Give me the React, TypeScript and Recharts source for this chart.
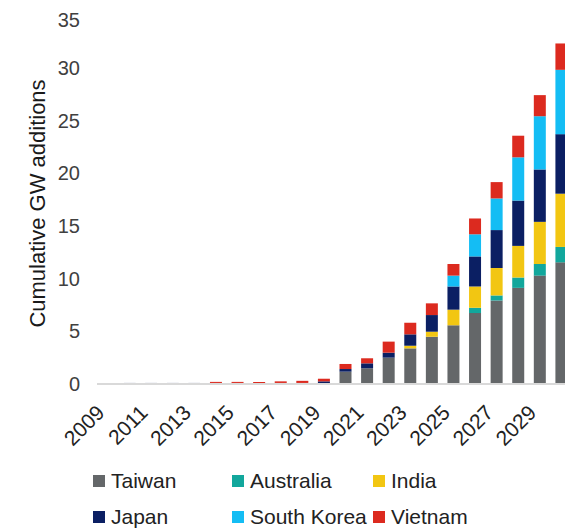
import { Bar, BarChart, Label, Legend, XAxis, YAxis } from 'recharts';

const years = [
  '2009', '2010', '2011', '2012', '2013', '2014', '2015', '2016', '2017', '2018', '2019',
  '2020', '2021', '2022', '2023', '2024', '2025', '2026', '2027', '2028', '2029', '2030',
];

// cumulative GW additions per market
const taiwan = [0, 0, 0, 0, 0, 0, 0, 0, 0, 0, 0.05, 1.17, 1.49, 2.5, 3.38, 4.48, 5.57, 6.73, 7.92, 9.12, 10.28, 11.54];
const australia = [0, 0, 0, 0, 0, 0, 0, 0, 0, 0, 0, 0, 0, 0, 0, 0, 0, 0.5, 0.48, 0.98, 1.1, 1.46];
const india = [0, 0, 0, 0, 0, 0, 0, 0, 0, 0, 0, 0, 0, 0, 0.25, 0.48, 1.48, 2.02, 2.6, 3.0, 4.0, 5.05];
const japan = [0, 0.1, 0.1, 0.1, 0.1, 0.1, 0.1, 0.1, 0.1, 0.1, 0.2, 0.25, 0.47, 0.47, 1.08, 1.58, 2.2, 2.85, 3.6, 4.3, 4.97, 5.65];
const southKorea = [0, 0, 0, 0, 0, 0, 0, 0, 0, 0, 0, 0, 0, 0, 0, 0, 1.03, 2.1, 3.0, 4.1, 5.05, 6.1];
const vietnam = [0, 0, 0, 0, 0, 0.1, 0.1, 0.1, 0.15, 0.2, 0.25, 0.48, 0.48, 1.05, 1.1, 1.11, 1.1, 1.5, 1.55, 2.05, 2.0, 2.5];

const yTicks = [0, 5, 10, 15, 20, 25, 30, 35];

const series = [
  { key: 'Taiwan', values: taiwan, color: '#646769' },
  { key: 'Australia', values: australia, color: '#12a79c' },
  { key: 'India', values: india, color: '#f2c612' },
  { key: 'Japan', values: japan, color: '#0b1f63' },
  { key: 'South Korea', values: southKorea, color: '#14bdf4' },
  { key: 'Vietnam', values: vietnam, color: '#dc2a1f' },
];

const data = years.map((year, i) => {
  const row: Record<string, string | number> = { year };
  series.forEach((s) => {
    row[s.key] = s.values[i];
  });
  return row;
});

const FONT = '"Liberation Sans", Arial, sans-serif';
const colLeft = [0, 139, 280];

function YearTick({ x, y, payload }: any) {
  return (
    <text
      x={0}
      y={0}
      textAnchor="end"
      transform={`translate(${x - 2},${y + 22}) rotate(-45)`}
      fontSize={21}
      fontFamily={FONT}
      fill="#222"
    >
      {payload.value}
    </text>
  );
}

function LegendBox() {
  return (
    <div style={{ position: 'relative', height: 82, fontFamily: FONT, fontSize: 21, color: '#222' }}>
      {series.map((s, i) => (
        <div
          key={s.key}
          style={{
            position: 'absolute',
            left: 85 + colLeft[i % 3],
            top: i < 3 ? 22 : 58,
            display: 'flex',
            alignItems: 'center',
            whiteSpace: 'nowrap',
            lineHeight: '24px',
          }}
        >
          <span style={{ width: 12, height: 12, background: s.color, marginRight: 6, display: 'inline-block' }} />
          {s.key}
        </div>
      ))}
    </div>
  );
}

export default function App() {
  return (
    <BarChart
      width={565}
      height={521}
      data={data}
      margin={{ top: 7, right: 1, bottom: 0, left: 0 }}
      barSize={12}
    >
      <XAxis
        dataKey="year"
        interval={1}
        tick={<YearTick />}
        tickLine={false}
        axisLine={{ stroke: '#d9d9d9', strokeWidth: 2 }}
        height={63}
      />
      <YAxis
        domain={[0, 35]}
        ticks={yTicks}
        width={89}
        axisLine={false}
        tickLine={false}
        tickSize={0}
        tickMargin={17}
        tick={{ fontSize: 20, fill: '#404040', fontFamily: FONT }}
      >
        <Label
          content={({ viewBox }: any) => (
            <text
              x={viewBox.x + 37}
              y={viewBox.y + viewBox.height / 2 + 4}
              transform={`rotate(-90, ${viewBox.x + 37}, ${viewBox.y + viewBox.height / 2 + 4})`}
              textAnchor="middle"
              fontSize={22}
              fontFamily={FONT}
              fill="#1a1a1a"
            >
              Cumulative GW additions
            </text>
          )}
        />
      </YAxis>
      <Legend verticalAlign="bottom" content={<LegendBox />} wrapperStyle={{ height: 82 }} />
      {series.map((s) => (
        <Bar key={s.key} dataKey={s.key} stackId="a" fill={s.color} isAnimationActive={false} />
      ))}
    </BarChart>
  );
}
